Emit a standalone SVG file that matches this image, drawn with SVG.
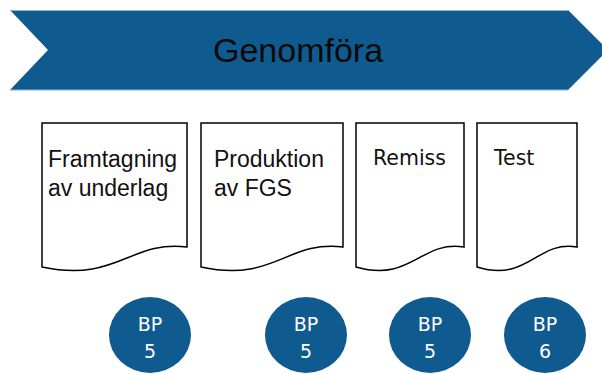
<svg xmlns="http://www.w3.org/2000/svg" width="602" height="374" viewBox="0 0 602 374">
<style>
.doc{fill:#fff;stroke:#000;stroke-width:1.5;stroke-linejoin:miter}
.lbl{font-family:"Liberation Sans",Arial,sans-serif;font-size:23px;fill:#111}
.lbl2{font-family:"DejaVu Sans",Verdana,sans-serif;font-size:20.5px;fill:#111}
.bp{fill:#0F5B8F}
.bpt{font-family:"DejaVu Sans",Verdana,sans-serif;font-size:19px;fill:#fff;text-anchor:middle}
</style>
<rect width="602" height="374" fill="#fff"/>
<g id="header">
<polygon points="10,10 568,10 608,50 568,90 10,90 48,50" fill="#0F5B8F"/>
<line x1="10" y1="10.5" x2="568" y2="10.5" stroke="#8FB4D4" stroke-width="1"/>
<line x1="10" y1="90" x2="568" y2="90" stroke="#8FB4D4" stroke-width="1.2"/>
<text x="298" y="62" font-family="'Liberation Sans',Arial,sans-serif" font-size="34" fill="#0a0a0a" text-anchor="middle">Genomföra</text>
</g>
<g id="doc1">
<path class="doc" d="M42 123 H187 V247 C130 240 117 283 42 267 Z"/>
<text class="lbl" x="48" y="167">Framtagning</text>
<text class="lbl" x="48" y="196">av underlag</text>
</g>
<g id="doc2">
<path class="doc" d="M201 123 H343 V247 C287 240 274 283 201 267 Z"/>
<text class="lbl" x="214" y="167">Produktion</text>
<text class="lbl" x="214" y="196">av FGS</text>
</g>
<g id="doc3">
<path class="doc" d="M356 123 H464 V247 C421 240 411 283 356 267 Z"/>
<text class="lbl2" x="373" y="165">Remiss</text>
</g>
<g id="doc4">
<path class="doc" d="M477 123 H577 V247 C537 240 528 283 477 267 Z"/>
<text class="lbl2" x="494" y="165">Test</text>
</g>
<g id="bp1">
<ellipse class="bp" cx="150" cy="335" rx="41" ry="38"/>
<text class="bpt" x="150" y="331">BP</text>
<text class="bpt" x="150" y="358">5</text>
</g>
<g id="bp2">
<ellipse class="bp" cx="306" cy="335" rx="41" ry="38"/>
<text class="bpt" x="306" y="331">BP</text>
<text class="bpt" x="306" y="358">5</text>
</g>
<g id="bp3">
<ellipse class="bp" cx="430" cy="335" rx="41" ry="38"/>
<text class="bpt" x="430" y="331">BP</text>
<text class="bpt" x="430" y="358">5</text>
</g>
<g id="bp4">
<ellipse class="bp" cx="545" cy="335" rx="41" ry="38"/>
<text class="bpt" x="545" y="331">BP</text>
<text class="bpt" x="545" y="358">6</text>
</g>
</svg>
